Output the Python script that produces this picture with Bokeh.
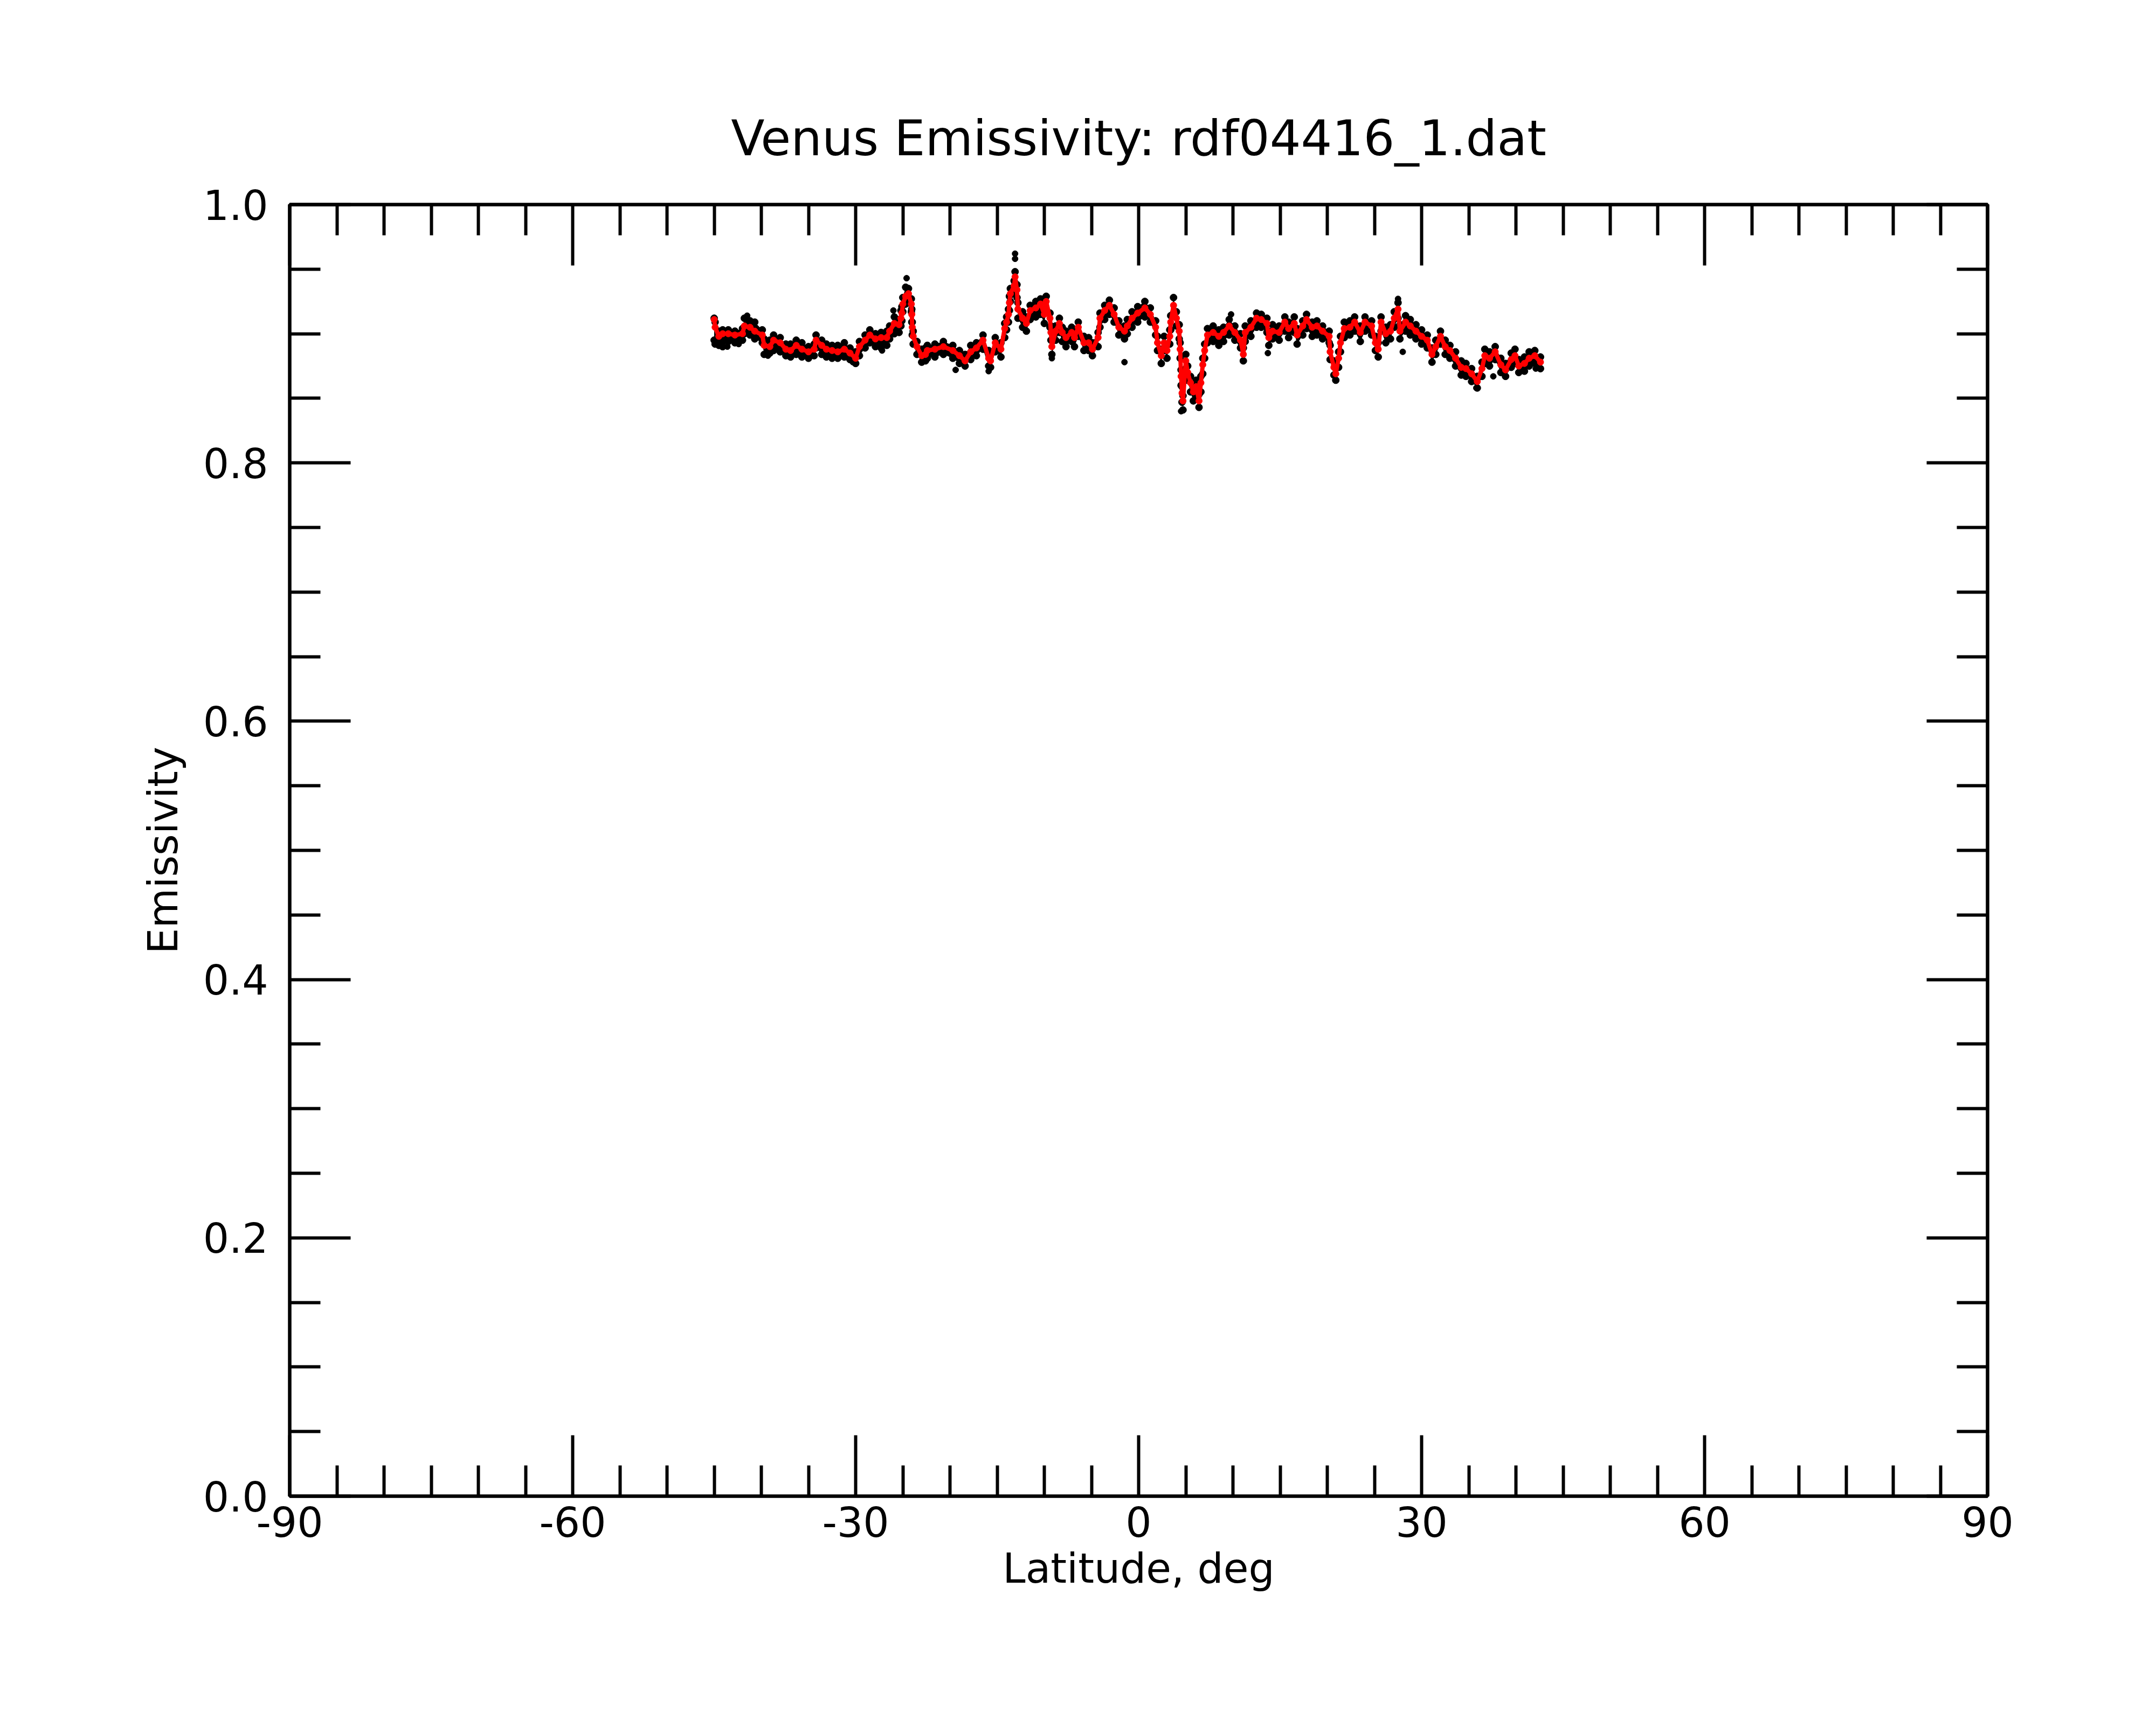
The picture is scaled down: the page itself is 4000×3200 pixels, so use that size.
from bokeh.plotting import figure
from bokeh.models import LinearAxis, FixedTicker, PrintfTickFormatter, CustomJSTickFormatter, Range1d
from bokeh.embed import file_html
from bokeh.resources import INLINE

# ---- data ----
red_lat = [-45.0, -44.9, -44.5, -44.1, -43.5, -42.8, -42.0, -41.8, -41.2, -40.7,
           -39.9, -39.7, -39.1, -38.7, -38.0, -37.4, -36.9, -36.3, -35.7, -35.0,
           -34.4, -34.2, -33.6, -33.1, -32.5, -31.9, -31.2, -30.6, -30.0, -29.6,
           -29.0, -28.5, -27.9, -27.3, -26.7, -26.4, -25.9, -25.4, -25.2, -25.1,
           -25.0, -24.7, -24.4, -24.1, -24.05, -24.0, -23.9, -23.5, -23.0, -22.6,
           -22.4, -21.6, -20.7, -19.7, -19.0, -18.4, -17.8, -17.2, -16.5, -15.9,
           -15.7, -15.2, -14.6, -14.2, -14.0, -13.8, -13.7, -13.6, -13.2, -13.1,
           -12.9, -12.8, -12.3, -11.9, -11.5, -10.9, -10.4, -10.0, -9.8, -9.4,
           -9.3, -9.2, -8.8, -8.4, -8.1, -7.7, -7.1, -6.8, -6.4, -5.8,
           -5.3, -4.9, -4.3, -4.1, -3.6, -3.1, -2.6, -2.1, -1.5, -1.2,
           -0.7, -0.1, 0.66, 1.24, 1.8, 2.0, 2.4, 2.7, 3.0, 3.3,
           3.4, 3.7, 4.0, 4.3, 4.4, 4.5, 4.6, 4.7, 5.0, 5.2,
           5.5, 5.8, 6.1, 6.4, 6.6, 6.8, 7.0, 7.3, 7.9, 8.5,
           9.0, 9.6, 10.2, 10.8, 11.1, 11.3, 11.9, 12.5, 13.0, 13.6,
           13.8, 14.2, 14.9, 15.5, 15.9, 16.5, 16.8, 17.4, 17.8, 18.4,
           18.9, 19.5, 20.2, 20.3, 20.7, 20.9, 21.2, 21.4, 21.8, 22.4,
           22.9, 23.5, 24.0, 24.7, 25.1, 25.4, 25.7, 26.2, 26.7, 27.1,
           27.5, 27.7, 28.3, 28.8, 29.4, 30.0, 30.6, 31.1, 31.5, 32.0,
           32.5, 33.0, 33.6, 34.2, 34.7, 35.3, 35.9, 36.4, 36.7, 37.2,
           37.8, 38.4, 38.9, 39.5, 39.9, 40.3, 40.9, 41.4, 42.0, 42.6]

red_em = [0.911, 0.905, 0.898, 0.900, 0.900, 0.899, 0.900, 0.906, 0.905, 0.902,
          0.899, 0.891, 0.890, 0.895, 0.893, 0.888, 0.887, 0.891, 0.888, 0.886,
          0.888, 0.895, 0.891, 0.888, 0.887, 0.886, 0.888, 0.885, 0.881, 0.890,
          0.895, 0.899, 0.896, 0.897, 0.897, 0.902, 0.908, 0.907, 0.912, 0.916,
          0.923, 0.929, 0.931, 0.923, 0.915, 0.905, 0.898, 0.890, 0.883, 0.884,
          0.887, 0.888, 0.890, 0.887, 0.883, 0.879, 0.886, 0.889, 0.895, 0.881,
          0.879, 0.893, 0.888, 0.904, 0.909, 0.915, 0.924, 0.931, 0.937, 0.944,
          0.934, 0.919, 0.912, 0.908, 0.918, 0.920, 0.923, 0.915, 0.925, 0.912,
          0.901, 0.890, 0.902, 0.908, 0.901, 0.897, 0.901, 0.897, 0.905, 0.893,
          0.893, 0.888, 0.897, 0.912, 0.918, 0.922, 0.915, 0.905, 0.902, 0.906,
          0.912, 0.916, 0.920, 0.915, 0.905, 0.893, 0.883, 0.893, 0.887, 0.898,
          0.909, 0.922, 0.912, 0.902, 0.888, 0.867, 0.854, 0.848, 0.879, 0.870,
          0.862, 0.855, 0.859, 0.848, 0.862, 0.876, 0.887, 0.899, 0.901, 0.898,
          0.901, 0.906, 0.901, 0.895, 0.884, 0.901, 0.905, 0.912, 0.911, 0.908,
          0.897, 0.902, 0.901, 0.909, 0.904, 0.908, 0.899, 0.906, 0.911, 0.905,
          0.906, 0.902, 0.898, 0.886, 0.874, 0.869, 0.881, 0.893, 0.904, 0.905,
          0.909, 0.901, 0.909, 0.906, 0.893, 0.888, 0.909, 0.900, 0.902, 0.912,
          0.919, 0.902, 0.909, 0.906, 0.902, 0.898, 0.895, 0.884, 0.890, 0.898,
          0.890, 0.887, 0.881, 0.874, 0.873, 0.869, 0.863, 0.873, 0.883, 0.881,
          0.886, 0.876, 0.872, 0.880, 0.883, 0.875, 0.877, 0.881, 0.883, 0.878]

# upper and lower edge of the black point band, at the same latitudes
black_hi = [0.912, 0.909, 0.902, 0.903, 0.903, 0.902, 0.904, 0.912, 0.910, 0.909,
            0.903, 0.896, 0.895, 0.899, 0.897, 0.892, 0.892, 0.895, 0.893, 0.890,
            0.892, 0.899, 0.895, 0.892, 0.891, 0.891, 0.893, 0.889, 0.886, 0.894,
            0.899, 0.903, 0.900, 0.901, 0.902, 0.906, 0.913, 0.911, 0.918, 0.921,
            0.928, 0.936, 0.935, 0.927, 0.919, 0.909, 0.902, 0.894, 0.888, 0.889,
            0.891, 0.892, 0.894, 0.891, 0.887, 0.884, 0.891, 0.893, 0.899, 0.887,
            0.885, 0.897, 0.893, 0.908, 0.913, 0.919, 0.929, 0.935, 0.941, 0.948,
            0.938, 0.924, 0.917, 0.913, 0.922, 0.925, 0.927, 0.919, 0.929, 0.916,
            0.906, 0.895, 0.906, 0.912, 0.905, 0.902, 0.905, 0.902, 0.909, 0.898,
            0.897, 0.893, 0.901, 0.916, 0.922, 0.926, 0.920, 0.910, 0.906, 0.911,
            0.917, 0.921, 0.925, 0.920, 0.910, 0.898, 0.888, 0.898, 0.892, 0.903,
            0.914, 0.928, 0.917, 0.907, 0.893, 0.872, 0.859, 0.852, 0.884, 0.875,
            0.867, 0.860, 0.864, 0.853, 0.867, 0.881, 0.892, 0.904, 0.906, 0.903,
            0.905, 0.911, 0.906, 0.900, 0.889, 0.906, 0.910, 0.916, 0.915, 0.912,
            0.902, 0.907, 0.906, 0.913, 0.909, 0.913, 0.904, 0.910, 0.915, 0.909,
            0.910, 0.906, 0.902, 0.891, 0.879, 0.874, 0.886, 0.898, 0.909, 0.910,
            0.913, 0.906, 0.913, 0.910, 0.898, 0.893, 0.913, 0.905, 0.907, 0.917,
            0.924, 0.907, 0.914, 0.911, 0.907, 0.903, 0.899, 0.889, 0.895, 0.902,
            0.895, 0.891, 0.886, 0.879, 0.877, 0.873, 0.867, 0.878, 0.888, 0.886,
            0.890, 0.881, 0.877, 0.885, 0.888, 0.880, 0.882, 0.886, 0.887, 0.882]

black_lo = [0.895, 0.892, 0.891, 0.890, 0.894, 0.893, 0.895, 0.900, 0.899, 0.896,
            0.893, 0.884, 0.885, 0.887, 0.886, 0.883, 0.882, 0.884, 0.882, 0.881,
            0.883, 0.889, 0.884, 0.882, 0.881, 0.881, 0.882, 0.880, 0.877, 0.883,
            0.889, 0.893, 0.890, 0.889, 0.891, 0.896, 0.900, 0.901, 0.906, 0.910,
            0.917, 0.923, 0.924, 0.917, 0.909, 0.899, 0.892, 0.884, 0.878, 0.879,
            0.881, 0.882, 0.884, 0.881, 0.877, 0.875, 0.880, 0.883, 0.888, 0.875,
            0.874, 0.886, 0.882, 0.897, 0.903, 0.909, 0.918, 0.925, 0.931, 0.938,
            0.928, 0.912, 0.905, 0.902, 0.911, 0.913, 0.915, 0.908, 0.918, 0.905,
            0.895, 0.884, 0.895, 0.901, 0.894, 0.890, 0.894, 0.890, 0.898, 0.887,
            0.887, 0.883, 0.890, 0.905, 0.911, 0.915, 0.909, 0.899, 0.896, 0.900,
            0.905, 0.909, 0.913, 0.909, 0.899, 0.887, 0.877, 0.887, 0.881, 0.892,
            0.903, 0.916, 0.906, 0.896, 0.881, 0.860, 0.847, 0.841, 0.873, 0.864,
            0.855, 0.848, 0.852, 0.843, 0.855, 0.869, 0.881, 0.893, 0.894, 0.891,
            0.894, 0.899, 0.895, 0.889, 0.879, 0.894, 0.898, 0.905, 0.905, 0.901,
            0.891, 0.896, 0.895, 0.902, 0.897, 0.901, 0.892, 0.899, 0.904, 0.898,
            0.899, 0.896, 0.893, 0.880, 0.868, 0.864, 0.874, 0.886, 0.897, 0.899,
            0.902, 0.894, 0.902, 0.899, 0.887, 0.882, 0.902, 0.893, 0.896, 0.905,
            0.912, 0.896, 0.902, 0.899, 0.896, 0.892, 0.889, 0.878, 0.884, 0.892,
            0.884, 0.881, 0.875, 0.868, 0.867, 0.863, 0.858, 0.867, 0.877, 0.875,
            0.880, 0.870, 0.867, 0.874, 0.877, 0.870, 0.871, 0.875, 0.877, 0.873]

# isolated black points
out_lat = [-13.1, -13.1, -24.6, -26.0, -41.5, -44.9, -43.6, -42.4, -39.3, -30.3,
           -27.2, -19.4, -15.9, -9.2, -1.5, 4.5, 9.8, 13.7, 27.5, 28.0,
           35.8, 37.6, 42.1]
out_em = [0.962, 0.958, 0.943, 0.918, 0.914, 0.892, 0.890, 0.892, 0.883, 0.878,
          0.887, 0.872, 0.871, 0.881, 0.878, 0.840, 0.915, 0.885, 0.927, 0.886,
          0.858, 0.867, 0.873]

x_major = [-90, -60, -30, 0, 30, 60, 90]
x_minor = [-85, -80, -75, -70, -65, -55, -50, -45, -40, -35, -25, -20, -15, -10, -5,
           5, 10, 15, 20, 25, 35, 40, 45, 50, 55, 65, 70, 75, 80, 85]
y_major = [0.0, 0.2, 0.4, 0.6, 0.8, 1.0]
y_minor = [0.05, 0.1, 0.15, 0.25, 0.3, 0.35, 0.45, 0.5, 0.55, 0.65, 0.7, 0.75,
           0.85, 0.9, 0.95]

title_text = "Venus Emissivity: rdf04416_1.dat"
x_label = "Latitude, deg"
y_label = "Emissivity"

FONT = "DejaVu Sans"

p = figure(width=3984, height=3184, output_backend="svg", toolbar_location=None,
           x_range=Range1d(-90, 90), y_range=Range1d(0, 1),
           x_axis_location=None, y_axis_location=None,
           min_border_left=537, min_border_right=297,
           min_border_top=379, min_border_bottom=409)
p.xgrid.visible = False
p.ygrid.visible = False
p.outline_line_color = "black"
p.outline_line_width = 6
p.background_fill_color = "white"
p.border_fill_color = "white"

p.title.text = title_text
p.title.text_font = FONT
p.title.text_font_size = "91px"
p.title.text_font_style = "normal"
p.title.align = "center"
p.title.text_color = "black"
p.title.standoff = 141


def style(ax):
    ax.axis_line_width = 6
    ax.axis_line_color = "black"
    ax.major_tick_line_width = 6
    ax.minor_tick_line_width = 6
    ax.major_tick_line_color = "black"
    ax.minor_tick_line_color = "black"
    ax.major_tick_in = 113
    ax.major_tick_out = 0
    ax.minor_tick_in = 57
    ax.minor_tick_out = 0
    ax.major_label_text_font = FONT
    ax.major_label_text_font_size = "76px"
    ax.major_label_text_color = "black"
    ax.axis_label_text_font = FONT
    ax.axis_label_text_font_size = "76px"
    ax.axis_label_text_font_style = "normal"
    ax.axis_label_text_color = "black"


blank = CustomJSTickFormatter(code="return '';")

xb = LinearAxis(ticker=FixedTicker(ticks=x_major, minor_ticks=x_minor),
                formatter=PrintfTickFormatter(format="%d"), axis_label=x_label)
style(xb)
xb.major_label_standoff = 19
xb.axis_label_standoff = 11
p.add_layout(xb, "below")

xt = LinearAxis(ticker=FixedTicker(ticks=x_major, minor_ticks=x_minor), formatter=blank)
style(xt)
xt.major_label_text_font_size = "1px"
xt.major_label_standoff = 0
p.add_layout(xt, "above")

yl = LinearAxis(ticker=FixedTicker(ticks=y_major, minor_ticks=y_minor),
                formatter=PrintfTickFormatter(format="%.1f"), axis_label=y_label)
style(yl)
yl.major_label_standoff = 40
yl.axis_label_standoff = 27
p.add_layout(yl, "left")

yr = LinearAxis(ticker=FixedTicker(ticks=y_major, minor_ticks=y_minor), formatter=blank)
style(yr)
yr.major_label_text_font_size = "1px"
yr.major_label_standoff = 0
p.add_layout(yr, "right")

# black data band (dense raw points) and its ragged edges
p.varea(x=red_lat, y1=black_lo, y2=black_hi, fill_color="black")
p.scatter(red_lat, black_hi, size=13, color="black", marker="circle")
p.scatter(red_lat, black_lo, size=13, color="black", marker="circle")
p.scatter(out_lat, out_em, size=11, color="black", marker="circle")
# red smoothed series
p.line(red_lat, red_em, line_color="red", line_width=8)
p.scatter(red_lat, red_em, size=12, color="red", marker="circle")

open("out.html", "w").write(file_html(p, INLINE))
